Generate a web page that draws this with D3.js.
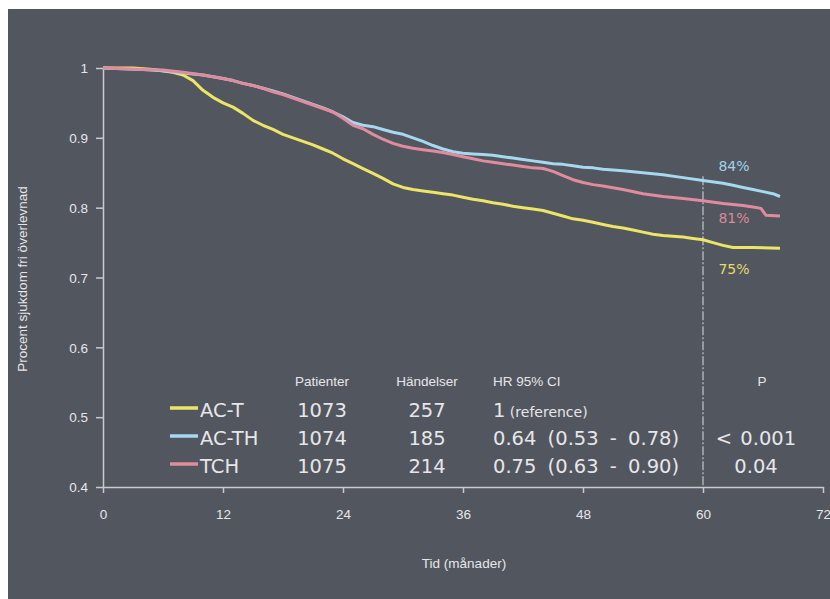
<!DOCTYPE html>
<html>
<head>
<meta charset="utf-8">
<script src="https://cdn.jsdelivr.net/npm/d3@7"></script>
<style>
  html, body { margin: 0; padding: 0; background: #ffffff; }
  svg { display: block; }
</style>
</head>
<body>
<div id="chart"></div>
<script>
// ---------- DATA ----------
const xTicks = [0, 12, 24, 36, 48, 60, 72];
const yTicks = [0.4, 0.5, 0.6, 0.7, 0.8, 0.9, 1];
const yTickLabels = ["0.4", "0.5", "0.6", "0.7", "0.8", "0.9", "1"];

const seriesNames = ["AC-T", "AC-TH", "TCH"];

const timeACT = [0, 3, 5, 7, 8, 9, 10, 11, 12, 13, 14, 15, 16, 17, 18, 19, 20, 21, 22, 23, 24, 25, 26, 27, 28, 29, 30, 31, 32, 33, 34, 35, 36, 37, 38, 39, 40, 41, 42, 43, 44, 45, 46, 47, 48, 49, 50, 51, 52, 53, 54, 55, 56, 57, 58, 59, 60, 61, 62, 63, 65, 67.7];
const survACT = [1, 1, 0.998, 0.994, 0.99, 0.982, 0.968, 0.958, 0.95, 0.944, 0.935, 0.925, 0.918, 0.912, 0.905, 0.9, 0.895, 0.89, 0.884, 0.878, 0.87, 0.863, 0.856, 0.849, 0.842, 0.834, 0.829, 0.826, 0.824, 0.822, 0.82, 0.818, 0.815, 0.812, 0.81, 0.807, 0.805, 0.802, 0.8, 0.798, 0.796, 0.792, 0.788, 0.784, 0.782, 0.779, 0.776, 0.773, 0.771, 0.768, 0.765, 0.762, 0.76, 0.759, 0.758, 0.756, 0.754, 0.75, 0.746, 0.743, 0.743, 0.742];

const timeACTH = [0, 4, 6, 8, 10, 12, 13, 14, 15, 16, 17, 18, 19, 20, 21, 22, 23, 24, 25, 26, 27, 28, 29, 30, 31, 32, 33, 34, 35, 36, 37, 38, 39, 40, 41, 42, 43, 44, 45, 46, 47, 48, 49, 50, 52, 54, 56, 58, 60, 62, 63, 64, 65, 66, 67, 67.7];
const survACTH = [1, 0.998, 0.996, 0.993, 0.99, 0.985, 0.982, 0.978, 0.975, 0.971, 0.967, 0.963, 0.958, 0.953, 0.948, 0.943, 0.937, 0.93, 0.922, 0.918, 0.916, 0.912, 0.908, 0.905, 0.9, 0.895, 0.889, 0.884, 0.88, 0.878, 0.877, 0.876, 0.875, 0.873, 0.871, 0.869, 0.867, 0.865, 0.863, 0.862, 0.86, 0.858, 0.857, 0.855, 0.853, 0.85, 0.847, 0.843, 0.839, 0.835, 0.832, 0.829, 0.826, 0.823, 0.82, 0.816];

const timeTCH = [0, 4, 6, 8, 10, 12, 13, 14, 15, 16, 17, 18, 19, 20, 21, 22, 23, 24, 25, 26, 27, 28, 29, 30, 31, 32, 33, 34, 35, 36, 37, 38, 39, 40, 41, 42, 43, 44, 45, 46, 47, 48, 49, 50, 52, 54, 56, 58, 60, 62, 64, 65, 65.8, 66.3, 67.7];
const survTCH = [1, 0.998, 0.997, 0.994, 0.99, 0.985, 0.982, 0.978, 0.975, 0.971, 0.966, 0.962, 0.957, 0.952, 0.947, 0.942, 0.937, 0.928, 0.918, 0.913, 0.905, 0.898, 0.892, 0.888, 0.885, 0.883, 0.881, 0.879, 0.876, 0.873, 0.87, 0.867, 0.865, 0.863, 0.861, 0.859, 0.857, 0.856, 0.852, 0.846, 0.84, 0.836, 0.833, 0.831, 0.826, 0.82, 0.816, 0.813, 0.81, 0.806, 0.803, 0.801, 0.799, 0.789, 0.788];

const patients = ["1073", "1074", "1075"];
const events = ["257", "185", "214"];
const hrMain = ["1", "0.64 (0.53 - 0.78)", "0.75 (0.63 - 0.90)"];
const hrNote = ["(reference)", "", ""];
const pValues = ["", "< 0.001", "0.04"];
const headers = ["Patienter", "Händelser", "HR 95% CI", "P"];

const endLabels = ["75%", "84%", "81%"];
const endLabelValues = [0.705, 0.852, 0.778]; // y-position of label text (value units)
const refLineMonth = 60;
const refLineTop = 0.845;

// ---------- STYLE ----------
const W = 830, H = 599;
const colors = ["#ece566", "#a6d8ef", "#e08c9e"];
const labelColors = ["#e3dc6e", "#a2d3ea", "#d98a9b"];
const bg = "#52565f";
const axisColor = "#c9cad0";
const textColor = "#e6e6ea";

const svg = d3.select("#chart").append("svg").attr("width", W).attr("height", H);

svg.append("rect").attr("x", 8).attr("y", 9).attr("width", W - 8).attr("height", H - 9).attr("fill", bg);

const x = d3.scaleLinear().domain([0, 72]).range([103, 823]);
const y = d3.scaleLinear().domain([0.4, 1]).range([487, 68]);

// axes
const gx = svg.append("g").attr("transform", `translate(0,${y(0.4)})`)
  .call(d3.axisBottom(x).tickValues(xTicks).tickSize(6).tickSizeOuter(0).tickPadding(16));
const gy = svg.append("g").attr("transform", `translate(${x(0)},0)`)
  .call(d3.axisLeft(y).tickValues(yTicks).tickFormat((d, i) => yTickLabels[i]).tickSize(7).tickSizeOuter(0).tickPadding(8));

[gx, gy].forEach(g => {
  g.select(".domain").attr("stroke", axisColor).attr("stroke-width", 1.5);
  g.selectAll(".tick line").attr("stroke", axisColor).attr("stroke-width", 1.5);
  g.selectAll(".tick text").attr("fill", textColor)
    .style("font-family", "'Liberation Sans', Arial, sans-serif").style("font-size", "13.5px");
});
gy.selectAll(".tick text").attr("dy", "0.35em");

// axis titles
svg.append("text").attr("x", 464).attr("y", 568).attr("text-anchor", "middle")
  .attr("fill", textColor).style("font-family", "'Liberation Sans', Arial, sans-serif").style("font-size", "13.5px")
  .text("Tid (månader)");
svg.append("text").attr("transform", "translate(27,279) rotate(-90)").attr("text-anchor", "middle")
  .attr("fill", textColor).style("font-family", "'Liberation Sans', Arial, sans-serif").style("font-size", "13.5px")
  .text("Procent sjukdom fri överlevnad");

// reference line at 60 months
svg.append("line")
  .attr("x1", x(refLineMonth)).attr("x2", x(refLineMonth))
  .attr("y1", y(refLineTop)).attr("y2", y(0.4))
  .attr("stroke", "#c4c6cc").attr("stroke-width", 1.2)
  .attr("stroke-dasharray", "9,2,2,2");

// curves
const series = [
  { t: timeACT, s: survACT },
  { t: timeACTH, s: survACTH },
  { t: timeTCH, s: survTCH }
];
const line = d3.line().x(d => x(d[0])).y(d => y(d[1])).curve(d3.curveLinear);
[0, 1, 2].forEach(i => {
  const pts = series[i].t.map((t, j) => [t, series[i].s[j]]);
  svg.append("path").datum(pts)
    .attr("d", line)
    .attr("fill", "none")
    .attr("stroke", colors[i])
    .attr("stroke-width", 3)
    .attr("stroke-linejoin", "round");
});

// end labels
endLabels.forEach((lab, i) => {
  svg.append("text").attr("x", 734).attr("y", y(endLabelValues[i])).attr("text-anchor", "middle")
    .attr("fill", labelColors[i])
    .style("font-family", "'DejaVu Sans', Verdana, sans-serif").style("font-size", "14px")
    .text(lab);
});

// table
const hdrFont = "'Liberation Sans', Arial, sans-serif";
const tblFont = "'DejaVu Sans', Verdana, sans-serif";
const colX = [322, 427, 493, 756];
const colAnchor = ["middle", "middle", "start", "middle"];
const hdrY = 386;
const rowY = [417, 445, 473];

headers.forEach((h, i) => {
  svg.append("text").attr("x", i === 3 ? 762 : colX[i]).attr("y", hdrY).attr("text-anchor", colAnchor[i])
    .attr("fill", textColor).style("font-family", hdrFont).style("font-size", "13.5px").text(h);
});

seriesNames.forEach((name, i) => {
  svg.append("line").attr("x1", 170).attr("x2", 198)
    .attr("y1", rowY[i] - 9).attr("y2", rowY[i] - 9)
    .attr("stroke", colors[i]).attr("stroke-width", 3.5);
  svg.append("text").attr("x", 200).attr("y", rowY[i]).attr("fill", textColor)
    .style("font-family", tblFont).style("font-size", "19.5px").text(name);
  svg.append("text").attr("x", colX[0]).attr("y", rowY[i]).attr("text-anchor", "middle").attr("fill", textColor)
    .style("font-family", tblFont).style("font-size", "19.5px").text(patients[i]);
  svg.append("text").attr("x", colX[1]).attr("y", rowY[i]).attr("text-anchor", "middle").attr("fill", textColor)
    .style("font-family", tblFont).style("font-size", "19.5px").text(events[i]);
  const t = svg.append("text").attr("x", colX[2]).attr("y", rowY[i]).attr("fill", textColor)
    .style("font-family", tblFont).style("font-size", "19.5px").style("word-spacing", "5px");
  t.append("tspan").text(hrMain[i]);
  if (hrNote[i]) t.append("tspan").style("font-size", "14px").style("word-spacing", "0px").text(" " + hrNote[i]);
  if (pValues[i]) {
    svg.append("text").attr("x", colX[3]).attr("y", rowY[i]).attr("text-anchor", "middle").attr("fill", textColor)
      .style("font-family", tblFont).style("font-size", "19.5px").style("word-spacing", "2px").text(pValues[i]);
  }
});
</script>
</body>
</html>
